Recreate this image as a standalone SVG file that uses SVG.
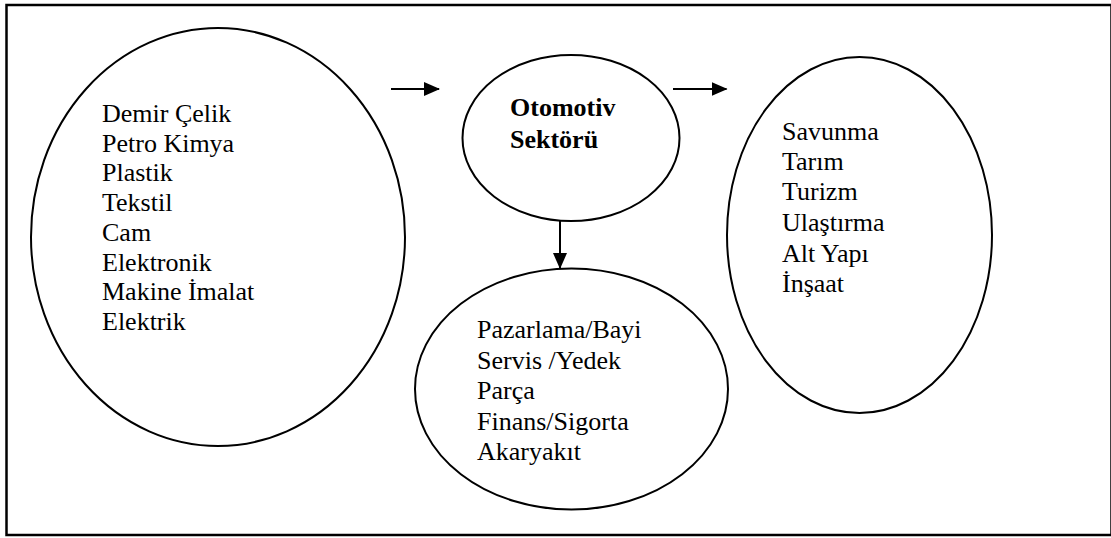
<svg xmlns="http://www.w3.org/2000/svg" width="1111" height="538" viewBox="0 0 1111 538">
<style>
.n{fill:#fff;stroke:#000;stroke-width:2}
.t{font-family:"Liberation Serif","Times New Roman",serif;font-size:26px;fill:#000}
.b{font-weight:bold}
.c{stroke:#000;stroke-width:2;fill:none}
</style>
<defs>
<marker id="ah" markerWidth="8" markerHeight="7" refX="7.5" refY="3.5" orient="auto" markerUnits="strokeWidth"><path d="M0,0 L8,3.5 L0,7 z" fill="#000"/></marker>
</defs>
<rect x="6.5" y="5" width="1105" height="530" fill="#fff" stroke="#000" stroke-width="2.5"/>
<g id="inputs">
<ellipse class="n" cx="218" cy="237" rx="187" ry="209"/>
<text class="t"><tspan x="102" y="122">Demir Çelik</tspan><tspan x="102" y="151.7">Petro Kimya</tspan><tspan x="102" y="181.4">Plastik</tspan><tspan x="102" y="211.1">Tekstil</tspan><tspan x="102" y="240.8">Cam</tspan><tspan x="102" y="270.5">Elektronik</tspan><tspan x="102" y="300.2">Makine İmalat</tspan><tspan x="102" y="329.9">Elektrik</tspan></text>
</g>
<g id="otomotiv">
<ellipse class="n" cx="571" cy="138" rx="108.5" ry="83"/>
<text class="t b"><tspan x="510" y="116">Otomotiv</tspan><tspan x="510" y="147.5">Sektörü</tspan></text>
</g>
<g id="services">
<ellipse class="n" cx="571.5" cy="389" rx="156.5" ry="120.5"/>
<text class="t"><tspan x="477" y="338">Pazarlama/Bayi</tspan><tspan x="477" y="368.5">Servis /Yedek</tspan><tspan x="477" y="399">Parça</tspan><tspan x="477" y="429.5">Finans/Sigorta</tspan><tspan x="477" y="460">Akaryakıt</tspan></text>
</g>
<g id="outputs">
<ellipse class="n" cx="859.5" cy="235" rx="132.5" ry="178"/>
<text class="t"><tspan x="782" y="139.5">Savunma</tspan><tspan x="782" y="170">Tarım</tspan><tspan x="782" y="200">Turizm</tspan><tspan x="782" y="230.7">Ulaştırma</tspan><tspan x="782" y="261.5">Alt Yapı</tspan><tspan x="782" y="291.7">İnşaat</tspan></text>
</g>
<g id="connectors">
<line class="c" x1="391" y1="89" x2="439" y2="89" marker-end="url(#ah)"/>
<line class="c" x1="673" y1="89" x2="726.5" y2="89" marker-end="url(#ah)"/>
<line class="c" x1="560" y1="221" x2="560" y2="268" marker-end="url(#ah)"/>
</g>
</svg>
